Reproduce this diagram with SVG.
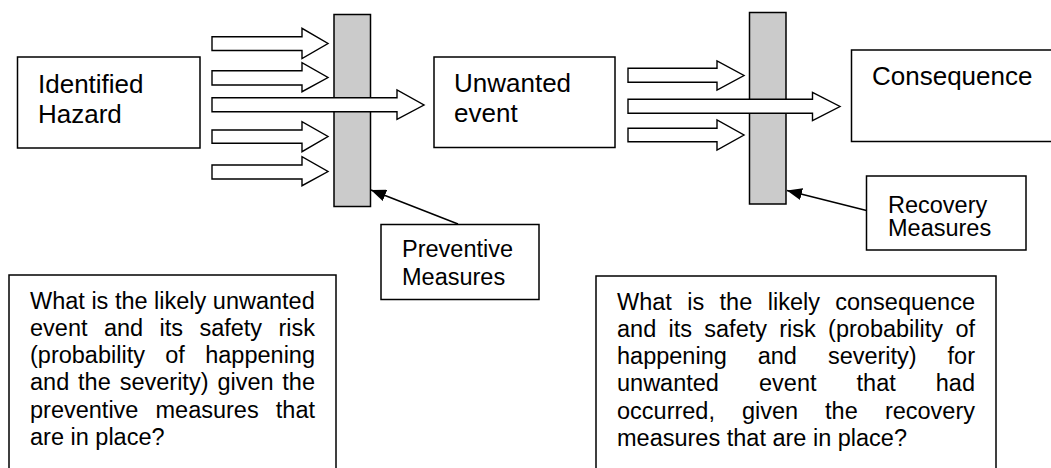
<svg xmlns="http://www.w3.org/2000/svg" width="1051" height="468" viewBox="0 0 1051 468">
<style>
.box{fill:#fff;stroke:#000;stroke-width:1.5}
.bar{fill:#cbcbcb;stroke:#000;stroke-width:1.5}
.harrow{fill:#fff;stroke:#000;stroke-width:1.4;stroke-linejoin:miter}
.lbl{font-family:"Liberation Sans",Arial,sans-serif;font-size:26px;fill:#000}
.sm{font-family:"Liberation Sans",Arial,sans-serif;font-size:23.5px;fill:#000}
.end{text-anchor:end}
.ptr{stroke:#000;stroke-width:1.5;fill:none}
</style>
<defs>
<marker id="ah" markerUnits="userSpaceOnUse" markerWidth="16" markerHeight="12" refX="15" refY="6" orient="auto">
<path d="M0,0 L15,6 L0,12 z" fill="#000"/>
</marker>
</defs>
<rect width="1051" height="468" fill="#fff"/>

<g id="hazard">
<rect class="box" x="17.5" y="57" width="182.5" height="91"/>
<text class="lbl" x="38" y="93">Identified</text>
<text class="lbl" x="38" y="123">Hazard</text>
</g>

<g id="barrier-preventive">
<rect class="bar" x="334" y="14.5" width="36.5" height="192"/>
</g>

<g id="barrier-recovery">
<rect class="bar" x="749.5" y="12.5" width="36.5" height="191.5"/>
</g>

<g id="unwanted">
<rect class="box" x="434" y="57" width="181" height="90.5"/>
<text class="lbl" x="454" y="92">Unwanted</text>
<text class="lbl" x="454" y="122">event</text>
</g>

<g id="consequence">
<rect class="box" x="851.5" y="50" width="210" height="91.5"/>
<text class="lbl" x="872" y="85">Consequence</text>
</g>

<g id="preventive">
<rect class="box" x="381" y="224.5" width="158" height="75"/>
<text class="sm" x="402" y="257">Preventive</text>
<text class="sm" x="402" y="285">Measures</text>
</g>

<g id="recovery">
<rect class="box" x="866.5" y="176" width="159.5" height="74"/>
<text class="sm" x="888" y="212.5">Recovery</text>
<text class="sm" x="888" y="236">Measures</text>
</g>

<g id="question-left">
<rect class="box" x="9" y="275" width="327" height="220"/>
<text class="sm" x="30" y="308.5">What is the likely unwanted</text>
<text class="sm" y="335.8"><tspan x="30">event</tspan><tspan x="103.9">and</tspan><tspan x="159.5">its</tspan><tspan x="199.4">safety</tspan></text>
<text class="sm end" x="315" y="335.8">risk</text>
<text class="sm" y="363.1"><tspan x="30">(probability</tspan><tspan x="165.3">of</tspan></text>
<text class="sm end" x="315" y="363.1">happening</text>
<text class="sm" y="390.4"><tspan x="30">and</tspan><tspan x="78.1">the</tspan><tspan x="119.7">severity)</tspan><tspan x="217.4">given</tspan></text>
<text class="sm end" x="315" y="390.4">the</text>
<text class="sm" y="417.7"><tspan x="30">preventive</tspan><tspan x="155.5">measures</tspan></text>
<text class="sm end" x="315" y="417.7">that</text>
<text class="sm" x="30" y="445">are in place?</text>
</g>

<g id="question-right">
<rect class="box" x="596" y="276" width="400" height="220"/>
<text class="sm" y="309.5"><tspan x="617">What</tspan><tspan x="687.2">is</tspan><tspan x="719.6">the</tspan><tspan x="767.7">likely</tspan></text>
<text class="sm end" x="975" y="309.5">consequence</text>
<text class="sm" y="336.8"><tspan x="617">and</tspan><tspan x="668.5">its</tspan><tspan x="704.3">safety</tspan><tspan x="779.3">risk</tspan><tspan x="828.1">(probability</tspan></text>
<text class="sm end" x="975" y="336.8">of</text>
<text class="sm" y="364.1"><tspan x="617">happening</tspan><tspan x="757.7">and</tspan><tspan x="827.9">severity)</tspan></text>
<text class="sm end" x="975" y="364.1">for</text>
<text class="sm" y="391.4"><tspan x="617">unwanted</tspan><tspan x="759">event</tspan><tspan x="856.6">that</tspan></text>
<text class="sm end" x="975" y="391.4">had</text>
<text class="sm" y="418.7"><tspan x="617">occurred,</tspan><tspan x="741.9">given</tspan><tspan x="825.1">the</tspan></text>
<text class="sm end" x="975" y="418.7">recovery</text>
<text class="sm" x="617" y="446">measures that are in place?</text>
</g>

<g id="connectors">
<path class="harrow" d="M212,36.7 H302 V28.3 L328,43.5 L302,58.5 V50.5 H212 Z"/>
<path class="harrow" d="M212,70.7 H302 V62.7 L328,77.5 L302,91.7 V85 H212 Z"/>
<path class="harrow" d="M212,130 H302 V121.7 L328,136.5 L302,151.7 V143.3 H212 Z"/>
<path class="harrow" d="M212,165 H302 V156.7 L328,171.5 L302,185.7 V179 H212 Z"/>
<path class="harrow" d="M212,97.7 H397 V90 L424,105 L397,119.3 V111.7 H212 Z"/>
<path class="harrow" d="M628,68.3 H717 V61 L744,75.5 L717,90 V82.3 H628 Z"/>
<path class="harrow" d="M628,128.3 H717 V120 L744,135 L717,150 V141.7 H628 Z"/>
<path class="harrow" d="M628,99.3 H812.5 V92.3 L840,106.5 L812.5,120.7 V113.3 H628 Z"/>
<line class="ptr" x1="458" y1="224" x2="371" y2="190" marker-end="url(#ah)"/>
<line class="ptr" x1="866.5" y1="210.5" x2="787" y2="190.5" marker-end="url(#ah)"/>
</g>
</svg>
